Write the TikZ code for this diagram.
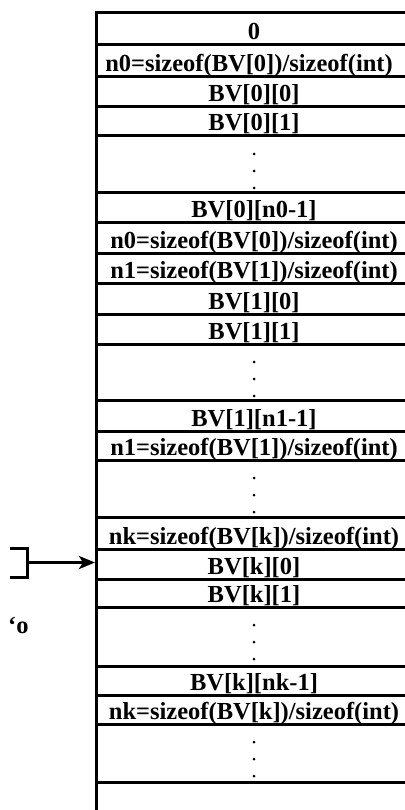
\documentclass[tikz,border=0pt]{standalone}
\usepackage{fontspec}
\setmainfont{Liberation Serif}
\usetikzlibrary{arrows.meta}
\begin{document}
\begin{tikzpicture}[x=1pt,y=-1pt,
  rule/.style={line width=3pt},
  celltext/.style={font=\fontsize{24.5}{26}\selectfont\bfseries, inner sep=0pt, anchor=base},
  vdot/.style={circle, fill=black, inner sep=0pt, minimum size=3pt},
  ptr/.style={line width=3pt, -{Stealth[length=16pt,width=13pt,inset=4pt]}},
]
\useasboundingbox (0,0) rectangle (404,810);

% memory column: outer frame
\draw[rule] (412,13) -- (96,13) -- (96,812);
\draw[rule] (412,13) -- (412,812);

% cell separators
\foreach \y in {45,77,107,136,193,223,253,283,314,344,400,431,460,517,549,579,607,666,695,724,782}
  \draw[rule] (96,\y) -- (412,\y);

% cell contents
\node[celltext] (c0)  at (254,40)  {0};
\node[celltext] (c1)  at (249,72)  {n0=sizeof(BV[0])/sizeof(int)};
\node[celltext] (c2)  at (254,102) {BV[0][0]};
\node[celltext] (c3)  at (254,131) {BV[0][1]};
\node[celltext] (c5)  at (254,218) {BV[0][n0-1]};
\node[celltext] (c6)  at (254,248) {n0=sizeof(BV[0])/sizeof(int)};
\node[celltext] (c7)  at (254,278) {n1=sizeof(BV[1])/sizeof(int)};
\node[celltext] (c8)  at (254,309) {BV[1][0]};
\node[celltext] (c9)  at (254,339) {BV[1][1]};
\node[celltext] (c11) at (254,426) {BV[1][n1-1]};
\node[celltext] (c12) at (254,455) {n1=sizeof(BV[1])/sizeof(int)};
\node[celltext] (c14) at (254,544) {nk=sizeof(BV[k])/sizeof(int)};
\node[celltext] (c15) at (254,574) {BV[k][0]};
\node[celltext] (c16) at (254,602) {BV[k][1]};
\node[celltext] (c18) at (254,690) {BV[k][nk-1]};
\node[celltext] (c19) at (254,719) {nk=sizeof(BV[k])/sizeof(int)};

% vertical ellipses in the gap cells
\foreach \t/\n in {136/a,344/b,460/c,607/d,724/e}{
  \node[vdot] (dot\n1) at (254,\t+18) {};
  \node[vdot] (dot\n2) at (254,\t+35) {};
  \node[vdot] (dot\n3) at (254,\t+52) {};
}

% pointer into BV[k][0]
\coordinate (bktop) at (10,548);
\coordinate (bkbot) at (10,577);
\coordinate (bkmid) at (27,562.5);
\coordinate (cellk) at (95,562.5);
\draw[line width=3pt] (bktop) -- (27,548) -- (27,577) -- (bkbot);
\draw[ptr] (bkmid) -- (cellk);

\node[celltext, anchor=base west] (lbl) at (8,633) {‘o};
\end{tikzpicture}
\end{document}
